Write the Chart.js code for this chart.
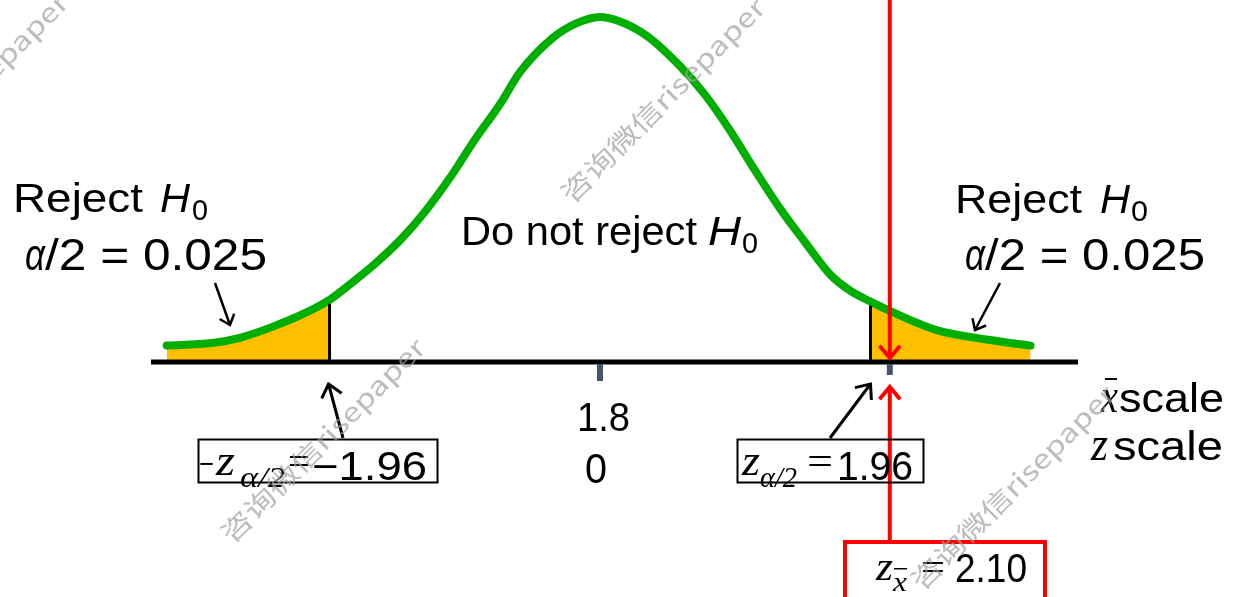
<!DOCTYPE html>
<html>
<head>
<meta charset="utf-8">
<script src="https://cdn.jsdelivr.net/npm/chart.js@4.4.1/dist/chart.umd.min.js"></script>
<style>
  html, body { margin: 0; padding: 0; background: #fff; }
  #wrap { width: 1233px; height: 597px; position: relative; }
</style>
</head>
<body>
<div id="wrap"><canvas id="c" width="1233" height="597"></canvas></div>
<script>
// normal curve on the z scale (height of the drawn curve)
const zPoints = [-3.14, -2.81, -2.61, -2.37, -2.12, -1.96, -1.79, -1.63, -1.45, -1.27, -1.09, -0.91, -0.72, -0.58, -0.34, -0.18, 0.00,
                 0.14, 0.34, 0.58, 0.76, 0.94, 1.12, 1.30, 1.49, 1.67, 1.81, 1.96, 2.20, 2.44, 2.80, 3.12];
const density = [0.019, 0.022, 0.028, 0.041, 0.058, 0.072, 0.093, 0.114, 0.141, 0.174, 0.213, 0.257, 0.300, 0.336, 0.376, 0.392, 0.400,
                 0.395, 0.378, 0.343, 0.310, 0.269, 0.223, 0.179, 0.138, 0.101, 0.083, 0.070, 0.052, 0.037, 0.026, 0.019];

const zCrit = 1.96;      // z alpha/2
const zStat = 2.10;      // observed z of x-bar
const xbarCenter = '1.8';
const zCenter = '0';

const curve = zPoints.map((z, i) => ({ x: z, y: density[i] }));
const leftTail = curve.filter(p => p.x <= -zCrit);
const rightTail = curve.filter(p => p.x >= zCrit);
const critHeight = z => curve.find(p => Math.abs(p.x - z) < 1e-9).y;

const SANS = '"Liberation Sans", Arial, sans-serif';
const SERIF = '"Liberation Serif", "Times New Roman", serif';

// text run, optionally squeezed/stretched to a given width
function run(ctx, t, x, y, font, w) {
  ctx.save();
  ctx.font = font;
  const nat = ctx.measureText(t).width;
  ctx.translate(x, y);
  if (w) ctx.scale(w / nat, 1);
  ctx.fillText(t, 0, 0);
  ctx.restore();
}

function arrow(ctx, x1, y1, x2, y2, color, lw, head) {
  const a = Math.atan2(y2 - y1, x2 - x1);
  const spread = 0.7;
  ctx.save();
  ctx.strokeStyle = color;
  ctx.lineWidth = lw;
  ctx.beginPath();
  ctx.moveTo(x1, y1);
  ctx.lineTo(x2, y2);
  ctx.stroke();
  ctx.beginPath();
  ctx.moveTo(x2 - head * Math.cos(a - spread), y2 - head * Math.sin(a - spread));
  ctx.lineTo(x2, y2);
  ctx.lineTo(x2 - head * Math.cos(a + spread), y2 - head * Math.sin(a + spread));
  ctx.stroke();
  ctx.restore();
}

function watermark(ctx, x, y) {
  ctx.save();
  ctx.translate(x, y);
  ctx.rotate(-Math.PI / 4);
  ctx.fillStyle = 'rgba(160,160,160,0.7)';
  run(ctx, '咨询微信risepaper', 0, 0, '26px "Noto Sans CJK SC", sans-serif', 276);
  ctx.restore();
}

const overlay = {
  id: 'overlay',
  afterDatasetsDraw(chart) {
    const ctx = chart.ctx;
    const xs = chart.scales.x, ys = chart.scales.y;
    const y0 = ys.getPixelForValue(0);

    // critical value lines
    ctx.save();
    ctx.strokeStyle = '#000';
    ctx.lineWidth = 3;
    [-zCrit, zCrit].forEach(z => {
      const px = xs.getPixelForValue(z);
      ctx.beginPath();
      ctx.moveTo(px, y0);
      ctx.lineTo(px, ys.getPixelForValue(critHeight(z)) + 4);
      ctx.stroke();
    });

    // axis line
    ctx.lineWidth = 5;
    ctx.beginPath();
    ctx.moveTo(151, y0);
    ctx.lineTo(1078, y0);
    ctx.stroke();

    // ticks
    ctx.fillStyle = '#44546A';
    let px = xs.getPixelForValue(0);
    ctx.fillRect(px - 3, y0 + 2, 6, 17);
    px = xs.getPixelForValue(zStat);
    ctx.fillRect(px - 3, y0 + 2, 6, 11);
    ctx.restore();

    // red marker for the observed z
    const zx = xs.getPixelForValue(zStat);
    arrow(ctx, zx, 0, zx, y0 - 4, '#FF0000', 4, 16);
    arrow(ctx, zx, 542, zx, y0 + 25, '#FF0000', 4, 16);

    // pointers
    arrow(ctx, 215, 283, 230, 325, '#000', 2.5, 12);
    arrow(ctx, 1000, 283, 975, 330, '#000', 2.5, 12);
    arrow(ctx, 343, 438, xs.getPixelForValue(-zCrit) - 1, 384, '#000', 3, 16);
    arrow(ctx, 830, 438, xs.getPixelForValue(zCrit), 384, '#000', 3, 16);

    // boxes
    ctx.save();
    ctx.strokeStyle = '#000';
    ctx.lineWidth = 2;
    ctx.strokeRect(198.5, 439.5, 239, 43);
    ctx.strokeRect(737.5, 439.5, 186, 43);
    ctx.strokeStyle = '#FF0000';
    ctx.lineWidth = 4;
    ctx.strokeRect(845, 542, 200, 70);
    ctx.restore();

    // labels
    ctx.save();
    ctx.fillStyle = '#000';

    run(ctx, 'Reject', 13, 212, '41px ' + SANS, 130);
    run(ctx, 'H', 160, 212, 'italic 41px ' + SANS, 30);
    run(ctx, '0', 192, 220, '30px ' + SANS, 16);
    run(ctx, 'α', 25, 270, 'italic 45px ' + SANS, 20);
    run(ctx, '/2 = 0.025', 45, 270, '45px ' + SANS, 222);

    run(ctx, 'Reject', 955, 213, '41px ' + SANS, 127);
    run(ctx, 'H', 1100, 213, 'italic 41px ' + SANS, 30);
    run(ctx, '0', 1131, 221, '30px ' + SANS, 17);
    run(ctx, 'α', 965, 270, 'italic 45px ' + SANS, 20);
    run(ctx, '/2 = 0.025', 985, 270, '45px ' + SANS, 220);

    run(ctx, 'Do not reject', 461, 245, '40px ' + SANS, 236);
    run(ctx, 'H', 708, 245, 'italic 40px ' + SANS, 33);
    run(ctx, '0', 742, 253, '30px ' + SANS, 16);

    run(ctx, xbarCenter, 577, 431, '40px ' + SANS, 53);
    run(ctx, zCenter, 585, 483, '42px ' + SANS, 22);

    // scale names
    run(ctx, 'x', 1101, 412, 'italic 48px ' + SERIF, 17);
    ctx.fillRect(1105, 378, 12, 2);
    run(ctx, 'scale', 1119, 412, '41px ' + SANS, 105);
    run(ctx, 'z', 1091, 460, 'italic 48px ' + SERIF, 17);
    run(ctx, 'scale', 1113, 460, '41px ' + SANS, 110);

    // box texts
    run(ctx, '−', 199, 477, '40px ' + SERIF, 15);
    run(ctx, 'z', 216, 475, 'italic 44px ' + SERIF, 19);
    run(ctx, 'α/2', 240, 487, 'italic 30px ' + SERIF, 45);
    run(ctx, '=', 288, 475, '40px ' + SERIF, 22);
    run(ctx, '−1.96', 312, 480, '40px ' + SANS, 115);

    run(ctx, 'z', 742, 475, 'italic 44px ' + SERIF, 18);
    run(ctx, 'α/2', 760, 487, 'italic 30px ' + SERIF, 37);
    run(ctx, '=', 807, 475, '40px ' + SERIF, 26);
    run(ctx, '1.96', 837, 480, '40px ' + SANS, 76);

    run(ctx, 'z', 876, 580, 'italic 40px ' + SERIF, 17);
    run(ctx, 'x', 893, 591, 'italic 27px ' + SERIF, 14);
    ctx.fillRect(894, 568, 13, 1.5);
    run(ctx, '=', 921, 580, '38px ' + SERIF, 24);
    run(ctx, '2.10', 955, 582, '41px ' + SANS, 72);
    ctx.restore();

    watermark(ctx, -125, 200);
    watermark(ctx, 572, 205);
    watermark(ctx, 232, 545);
    watermark(ctx, 922, 592);
  }
};

new Chart(document.getElementById('c'), {
  type: 'line',
  data: {
    datasets: [
      {
        data: curve,
        borderColor: '#00AE00',
        borderWidth: 8,
        borderCapStyle: 'round',
        borderJoinStyle: 'round',
        cubicInterpolationMode: 'monotone',
        pointRadius: 0,
        fill: false,
        order: 0
      },
      {
        data: leftTail,
        borderWidth: 0,
        backgroundColor: '#FFC000',
        cubicInterpolationMode: 'monotone',
        pointRadius: 0,
        fill: 'origin',
        order: 1
      },
      {
        data: rightTail,
        borderWidth: 0,
        backgroundColor: '#FFC000',
        cubicInterpolationMode: 'monotone',
        pointRadius: 0,
        fill: 'origin',
        order: 1
      }
    ]
  },
  options: {
    responsive: false,
    animation: false,
    layout: { padding: 0 },
    plugins: { legend: { display: false }, tooltip: { enabled: false } },
    scales: {
      x: { type: 'linear', min: -4.348, max: 4.587, display: false },
      y: { type: 'linear', min: -0.2725, max: 0.4197, display: false }
    }
  },
  plugins: [overlay]
});
</script>
</body>
</html>
